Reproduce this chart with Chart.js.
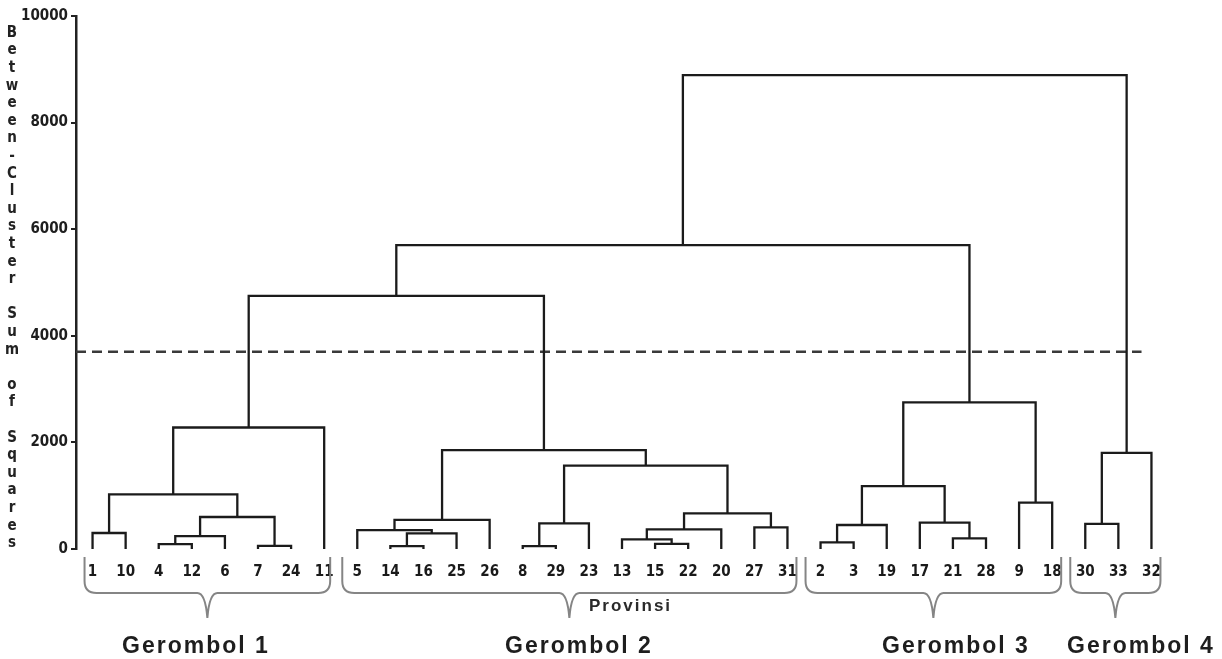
<!DOCTYPE html>
<html>
<head>
<meta charset="utf-8">
<script src="https://cdn.jsdelivr.net/npm/chart.js@4.4.1/dist/chart.umd.min.js"></script>
<style>
  html, body { margin: 0; padding: 0; background: #ffffff; }
  canvas { display: block; }
</style>
</head>
<body>
<canvas id="c" width="1222" height="659"></canvas>
<script>
// ---- data ----
const leafLabels = ['1','10','4','12','6','7','24','11','5','14','16','25','26','8','29','23','13','15','22','20','27','31','2','3','19','17','21','28','9','18','30','33','32'];
// merges: children are leaf labels ('L' prefix) or earlier merges ('c' prefix)
const mergeLeft   = ['L1','L4','c1','L7','c2','c0','c5','L14','c7','L5','c9','L8','c11','L15','L13','c14','L27','c15','c12','c10','c6','L2','c21','L21','L17','c22','L9','c25','c20','L30','c29','c28'];
const mergeRight  = ['L10','L12','L6','L24','c3','c4','L11','L16','L25','c8','L26','L29','L23','L22','c13','L20','L31','c16','c17','c18','c19','L3','L19','L28','c23','c24','L18','c26','c27','L33','L32','c30'];
const mergeHeight = [300, 90, 240, 60, 600, 1025, 2280, 55, 295, 355, 545, 55, 480, 95, 180, 370, 405, 670, 1565, 1855, 4750, 125, 450, 200, 495, 1180, 870, 2750, 5700, 470, 1805, 8890];
const yTicks = [0, 2000, 4000, 6000, 8000, 10000];
const cutoffValue = 3700;
const yTitle = 'Between-Cluster Sum of Squares';
const xTitle = 'Provinsi';
const groupNames = ['Gerombol 1', 'Gerombol 2', 'Gerombol 3', 'Gerombol 4'];
const groupFirstLeaf = ['1', '5', '2', '30'];
const groupLastLeaf = ['11', '31', '18', '32'];

// ---- build dendrogram segments ----
const nodePos = {};
leafLabels.forEach((l, i) => { nodePos['L' + l] = { x: i, h: 0 }; });
const datasets = [];
mergeHeight.forEach((h, i) => {
  const a = nodePos[mergeLeft[i]], b = nodePos[mergeRight[i]];
  datasets.push({
    data: [{x: a.x, y: a.h}, {x: a.x, y: h}, {x: b.x, y: h}, {x: b.x, y: b.h}],
    borderColor: '#1b1b1b', borderWidth: 2.3, pointRadius: 0, tension: 0,
    fill: false, borderJoinStyle: 'miter', borderCapStyle: 'butt'
  });
  nodePos['c' + i] = { x: (a.x + b.x) / 2, h: h };
});
datasets.push({
  data: [{x: -0.5, y: cutoffValue}, {x: 31.7, y: cutoffValue}],
  borderColor: '#3a3a3a', borderWidth: 2.5, borderDash: [10, 6], pointRadius: 0, fill: false
});

const narrow = "'Liberation Sans Narrow', 'DejaVu Sans Condensed', 'Roboto Condensed', sans-serif";

const decor = {
  id: 'decor',
  afterDraw(chart) {
    const ctx = chart.ctx;
    const xs = chart.scales.x;
    // y title, stacked letters
    ctx.save();
    ctx.fillStyle = '#222';
    ctx.font = "bold 15px " + narrow;
    ctx.textAlign = 'center';
    ctx.textBaseline = 'middle';
    const chars = yTitle.split('');
    chars.forEach((ch, i) => { ctx.fillText(ch, 12, 33 + i * 17.6); });
    ctx.restore();

    // brackets
    ctx.save();
    ctx.strokeStyle = '#858585';
    ctx.lineWidth = 2;
    const top = 557, mid = 593, bot = 618;
    groupNames.forEach((g, gi) => {
      const i0 = leafLabels.indexOf(groupFirstLeaf[gi]);
      const i1 = leafLabels.indexOf(groupLastLeaf[gi]);
      const L = xs.getPixelForValue(i0) - (gi === 0 ? 8 : 15);
      const R = xs.getPixelForValue(i1) + (gi === 0 ? 6 : 9);
      const C = (L + R) / 2;
      ctx.beginPath();
      ctx.moveTo(L, top);
      ctx.lineTo(L, mid - 12);
      ctx.quadraticCurveTo(L, mid, L + 12, mid);
      ctx.lineTo(C - 10, mid);
      ctx.quadraticCurveTo(C - 2, mid, C, bot);
      ctx.quadraticCurveTo(C + 2, mid, C + 10, mid);
      ctx.lineTo(R - 12, mid);
      ctx.quadraticCurveTo(R, mid, R, mid - 12);
      ctx.lineTo(R, top);
      ctx.stroke();
    });
    ctx.restore();

    // x title
    ctx.save();
    ctx.fillStyle = '#2a2a2a';
    ctx.font = "bold 17px 'Liberation Sans', Arial, sans-serif";
    ctx.letterSpacing = '2px';
    ctx.textAlign = 'left';
    ctx.textBaseline = 'middle';
    ctx.fillText(xTitle, 589, 606);
    ctx.restore();

    // group labels
    ctx.save();
    ctx.fillStyle = '#1e1e1e';
    ctx.font = "bold 23px 'Liberation Sans', Arial, sans-serif";
    ctx.letterSpacing = '2px';
    ctx.textAlign = 'left';
    ctx.textBaseline = 'middle';
    const gx = [122, 505, 882, 1067];
    groupNames.forEach((g, gi) => { ctx.fillText(g, gx[gi], 647); });
    ctx.restore();
  }
};

new Chart(document.getElementById('c'), {
  type: 'line',
  data: { datasets },
  options: {
    responsive: false,
    animation: false,
    devicePixelRatio: 1,
    layout: { padding: { left: 0, right: 54, top: 16, bottom: 0 } },
    plugins: { legend: { display: false }, tooltip: { enabled: false } },
    scales: {
      x: {
        type: 'linear', min: -0.5, max: 32.5,
        afterBuildTicks: (s) => { s.ticks = leafLabels.map((_, i) => ({ value: i })); },
        afterFit: (s) => { s.height = 110; },
        grid: { display: false, drawTicks: false },
        border: { display: false },
        ticks: {
          autoSkip: false, maxRotation: 0, padding: 14,
          color: '#1a1a1a',
          font: { family: narrow, size: 15, weight: 'bold' },
          callback: (v) => leafLabels[v] ?? ''
        }
      },
      y: {
        min: 0, max: 10000,
        afterBuildTicks: (s) => { s.ticks = yTicks.map(v => ({ value: v })); },
        afterFit: (s) => { s.width = 76; },
        grid: { drawOnChartArea: false, drawTicks: true, tickLength: 5, color: '#222', lineWidth: 2 },
        border: { display: true, color: '#222', width: 2.5 },
        ticks: {
          padding: 3, color: '#1e1e1e',
          font: { family: narrow, size: 15, weight: 'bold' },
          callback: (v) => String(v)
        }
      }
    }
  },
  plugins: [decor]
});
</script>
</body>
</html>
